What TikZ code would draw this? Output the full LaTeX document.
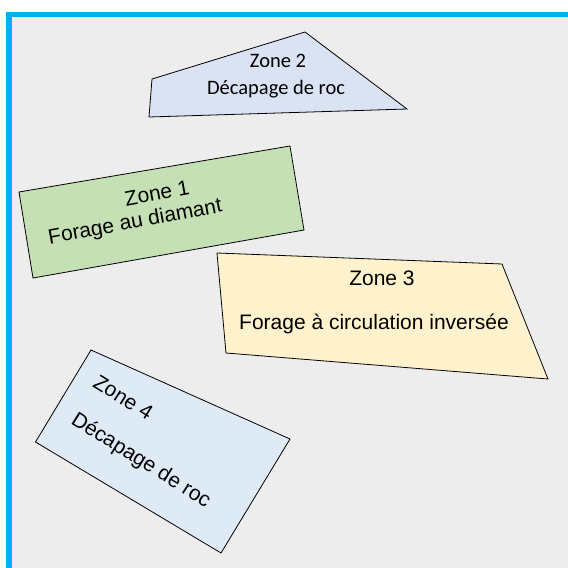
\documentclass[tikz,border=0pt]{standalone}
\usepackage{fontspec}
\setmainfont{Liberation Sans}
\newfontfamily\calibrifont{Carlito}
\definecolor{framecol}{HTML}{00B0F0}
\definecolor{backcol}{HTML}{EDEDED}
\definecolor{zoneone}{HTML}{C5E0B4}
\definecolor{zonetwo}{HTML}{DAE3F3}
\definecolor{zonethree}{HTML}{FFF2CC}
\definecolor{zonefour}{HTML}{DEEBF7}
\begin{document}
\begin{tikzpicture}[x=1pt, y=-1pt,
    zone/.style ={draw, line width=0.8pt, line join=miter},
    zonetext/.style ={inner sep=0pt, font=\fontsize{21}{25}\selectfont},
    zonetexttwo/.style ={inner sep=0pt, font=\calibrifont\fontsize{20.5}{24}\selectfont}]
   \useasboundingbox (0,0) rectangle (568,568);
   \fill[backcol] (6,12) rectangle (568,568);
   \draw[framecol, line width=5.5pt] (9,568) -- (9,14.6) -- (568,14.6);
   \coordinate (A2) at (152,79);
   \coordinate (B2) at (305,32);
   \coordinate (C2) at (407,109);
   \coordinate (D2) at (149,117);
   \draw[zone, fill=zonetwo] (A2) -- (B2) -- (C2) -- (D2) -- cycle;
   \node[zonetexttwo, anchor=base] (T2) at (278,67.3) {Zone 2};
   \node[zonetexttwo, anchor=base] (S2) at (276,94) {Décapage de roc};
   \coordinate (A1) at (19,192);
   \coordinate (B1) at (290,146);
   \coordinate (C1) at (304,230);
   \coordinate (D1) at (33,278);
   \draw[zone, fill=zoneone] (A1) -- (B1) -- (C1) -- (D1) -- cycle;
   \node[zonetext, rotate=10.6] (T1) at (157,193.3) {Zone 1};
   \node[zonetext, rotate=10.6] (S1) at (135.3,222.7) {Forage au diamant};
   \coordinate (A3) at (217,253);
   \coordinate (B3) at (502,264);
   \coordinate (C3) at (548,379);
   \coordinate (D3) at (226,353);
   \draw[zone, fill=zonethree] (A3) -- (B3) -- (C3) -- (D3) -- cycle;
   \node[zonetext, anchor=base] (T3) at (382,285) {Zone 3};
   \node[zonetext, anchor=base] (S3) at (374,329.5) {Forage à circulation inversée};
   \coordinate (A4) at (91,350);
   \coordinate (B4) at (290,439);
   \coordinate (C4) at (221,553);
   \coordinate (D4) at (35.5,442);
   \draw[zone, fill=zonefour] (A4) -- (B4) -- (C4) -- (D4) -- cycle;
   \node[zonetext, rotate=-32] (T4) at (123.3,397.3) {Zone 4};
   \node[zonetext, rotate=-32] (S4) at (140.8,460.8) {Décapage de roc};
\end{tikzpicture}
\end{document}
